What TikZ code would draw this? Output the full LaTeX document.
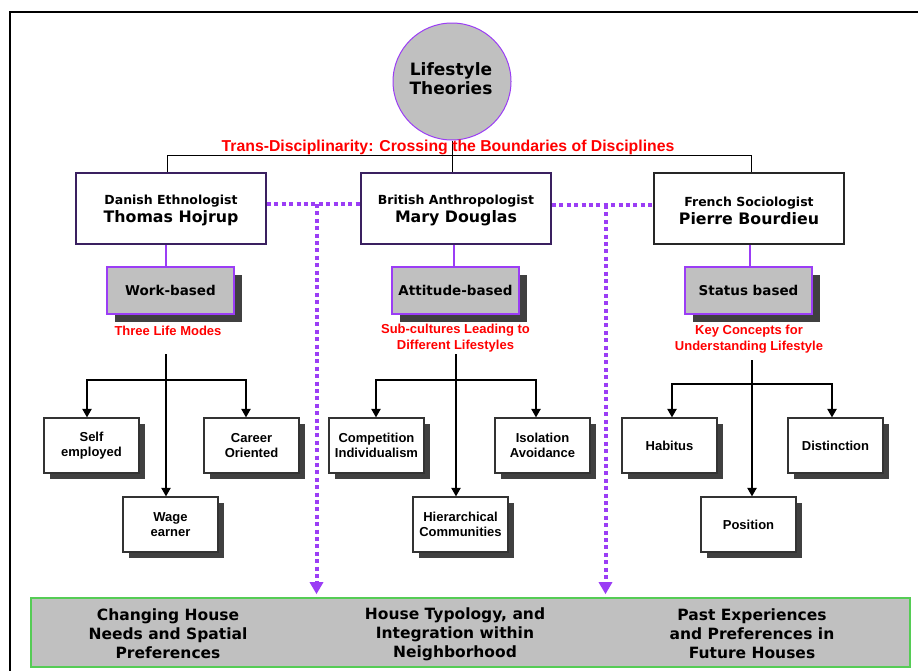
\documentclass[tikz,border=0pt]{standalone}
\usepackage{fontspec}
\setmainfont{DejaVu Sans}
\newfontfamily\arialf{Liberation Sans}
\usetikzlibrary{arrows.meta,shadows,calc,shapes.geometric}
\definecolor{boxgray}{HTML}{C0C0C0}
\definecolor{shgray}{HTML}{404040}
\definecolor{vio}{HTML}{9B3DF5}
\definecolor{dpurp}{HTML}{3A2060}
\definecolor{lgreen}{HTML}{55CC55}
\begin{document}
\begin{tikzpicture}[x=1pt,y=-1pt,
  pbox/.style={draw=dpurp,line width=1.8pt,fill=white,minimum width=190pt,minimum height=71pt,inner sep=0pt},
  ptext/.style={align=center,inner sep=0pt,font=\bfseries\fontsize{15.8}{18}\selectfont},
  gbox/.style={draw=vio,line width=1.3pt,fill=boxgray,minimum width=127pt,minimum height=47pt,general shadow={fill=shgray,shadow xshift=8pt,shadow yshift=-8pt},font=\fontsize{13.5}{15}\selectfont\bfseries},
  leaf/.style={draw=black!80,line width=1.1pt,fill=white,minimum width=95pt,minimum height=55pt,align=center,general shadow={fill=shgray,shadow xshift=6pt,shadow yshift=-6pt},font=\arialf\fontsize{13}{15.5}\selectfont\bfseries,inner sep=0pt},
  redlab/.style={text=red,font=\arialf\fontsize{13}{16}\selectfont\bfseries,align=center,inner sep=0pt},
  btext/.style={font=\fontsize{15.5}{19}\selectfont\bfseries,align=center,inner sep=0pt},
  tree/.style={line width=2pt,-{Triangle[width=9pt,length=8.5pt]}},
  tree2/.style={line width=2pt,{Triangle[width=9pt,length=8.5pt]}-{Triangle[width=9pt,length=8.5pt]}},
  dots/.style={vio,line width=4pt,dash pattern=on 4pt off 3.4pt},
  dotarrow/.style={dots,-{Triangle[width=13pt,length=12pt]},shorten >=3pt},
  thinline/.style={line width=0.9pt,black},
  vline/.style={vio,line width=1.3pt},
]
\useasboundingbox (0,0) rectangle (918,670);
\fill[white] (0,0) rectangle (918,670);
\draw[line width=1.8pt] (10,12) rectangle (960,720);

% top circle
\node[ellipse,draw=vio,line width=1pt,fill=boxgray,minimum width=118pt,minimum height=117pt,inner sep=0pt] (lt) at (452,81.5) {};
\node[align=center,inner sep=0pt,font=\fontsize{17}{19}\selectfont\bfseries] (ltt) at (451,79) {Lifestyle\\Theories};

% theorist boxes
\node[pbox] (b1) at (171,208.5) {};
\node[pbox] (b2) at (456,208.5) {};
\node[pbox,draw=black!85] (b3) at (749,208.5) {};
\node[ptext] (t1) at (171,210.5) {{\fontsize{12.5}{18}\selectfont Danish Ethnologist}\\Thomas Hojrup};
\node[ptext] (t2) at (456,210.5) {{\fontsize{12.5}{18}\selectfont British Anthropologist}\\Mary Douglas};
\node[ptext] (t3) at (749,211) {{\fontsize{12.5}{18}\selectfont French Sociologist}\\Pierre Bourdieu};

% top connectors
\coordinate (hl) at (167,155);
\coordinate (hr) at (751,155);
\draw[thinline] (hl |- b1.north) -- (hl) -- (hr) -- (hr |- b3.north);
\draw[thinline] (lt.south) -- (lt.south |- b2.north);
\node[redlab,font=\arialf\fontsize{15.8}{18}\selectfont\bfseries] (td) at (448,147) {Trans-Disciplinarity: Crossing the Boundaries of Disciplines};

% gray boxes
\node[gbox] (g1) at (170.5,290.5) {Work-based};
\node[gbox] (g2) at (455.5,290.5) {Attitude-based};
\node[gbox] (g3) at (748.5,290.5) {Status based};
\draw[vline] ($(b1.south)+(-5,0)$) -- ($(g1.north)+(-4.5,0)$);
\draw[vline] ($(b2.south)+(-2,0)$) -- ($(g2.north)+(-1.5,0)$);
\draw[vline] ($(b3.south)+(1,0)$) -- ($(g3.north)+(1.5,0)$);

% red labels
\node[redlab] (r1) at (168,331) {Three Life Modes};
\node[redlab] (r2) at (455.5,338) {Sub-cultures Leading to\\Different Lifestyles};
\node[redlab] (r3) at (749,339.5) {Key Concepts for\\Understanding Lifestyle};

% leaves
\node[leaf] (l11) at (91.5,445.5) {Self\\employed};
\node[leaf] (l12) at (251.5,445.5) {Career\\Oriented};
\node[leaf] (l13) at (170.5,524.5) {Wage\\earner};
\node[leaf] (l21) at (376.5,445.5) {Competition\\Individualism};
\node[leaf] (l22) at (542.5,445.5) {Isolation\\Avoidance};
\node[leaf] (l23) at (460.5,524.5) {Hierarchical\\Communities};
\node[leaf] (l31) at (669.5,445.5) {Habitus};
\node[leaf] (l32) at (835.5,445.5) {Distinction};
\node[leaf] (l33) at (748.5,524.5) {Position};

% trees
\coordinate (s1) at (166,354);
\coordinate (h1) at (166,380);
\draw[tree] (s1) -- (s1 |- l13.north);
\draw[tree2] ($(l11.north)+(-4.5,0)$) |- (h1) -| ($(l12.north)+(-5.5,0)$);

\coordinate (s2) at (456,354);
\coordinate (h2) at (456,380);
\draw[tree] (s2) -- (s2 |- l23.north);
\draw[tree2] ($(l21.north)+(-0.5,0)$) |- (h2) -| ($(l22.north)+(-6.5,0)$);

\coordinate (s3) at (752,360);
\coordinate (h3) at (752,384);
\draw[tree] (s3) -- (s3 |- l33.north);
\draw[tree2] ($(l31.north)+(2.5,0)$) |- (h3) -| ($(l32.north)+(-3.5,0)$);

% bottom box
\node[draw=lgreen,line width=1.6pt,fill=boxgray,minimum width=879pt,minimum height=69pt,inner sep=0pt] (bot) at (470.5,632.5) {};
\node[btext] (c1) at (168,634) {Changing House\\Needs and Spatial\\Preferences};
\node[btext] (c2) at (455,634) {House Typology, and\\Integration within\\Neighborhood};
\node[btext] (c3) at (752,634) {Past Experiences\\and Preferences in\\Future Houses};

% dotted links
\coordinate (d1) at (316.5,204);
\coordinate (d2) at (605.5,205);
\draw[dots] ($(b1.east)+(0,-4.5)$) -- ($(b2.west)+(0,-4.5)$);
\draw[dots] ($(b2.east)+(0,-3.5)$) -- ($(b3.west)+(0,-3.5)$);
\draw[dotarrow] (d1) -- (d1 |- bot.north);
\draw[dotarrow] (d2) -- (d2 |- bot.north);
\end{tikzpicture}
\end{document}
